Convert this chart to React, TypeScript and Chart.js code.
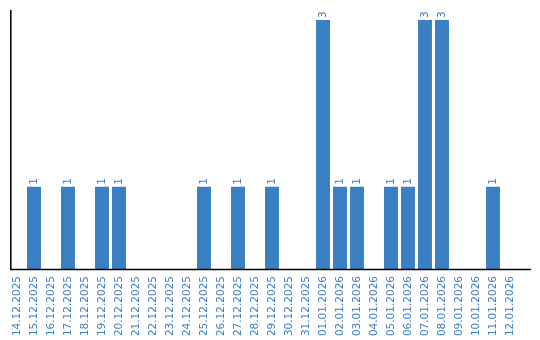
import React, { useEffect, useRef } from "react";
import { Chart, registerables } from "chart.js";

Chart.register(...registerables);

const categories: string[] = [
  "14.12.2025", "15.12.2025", "16.12.2025", "17.12.2025", "18.12.2025",
  "19.12.2025", "20.12.2025", "21.12.2025", "22.12.2025", "23.12.2025",
  "24.12.2025", "25.12.2025", "26.12.2025", "27.12.2025", "28.12.2025",
  "29.12.2025", "30.12.2025", "31.12.2025", "01.01.2026", "02.01.2026",
  "03.01.2026", "04.01.2026", "05.01.2026", "06.01.2026", "07.01.2026",
  "08.01.2026", "09.01.2026", "10.01.2026", "11.01.2026", "12.01.2026",
];

const counts: number[] = [
  0, 1, 0, 1, 0,
  1, 1, 0, 0, 0,
  0, 1, 0, 1, 0,
  1, 0, 0, 3, 1,
  1, 0, 1, 1, 3,
  3, 0, 0, 1, 0,
];

const BAR_COLOR = "#3b7fc3";
const TEXT_COLOR = "#3b7fc3";
const FONT_FAMILY = "'DejaVu Sans', Verdana, sans-serif";
const FONT_SIZE = 10.5;

const axisLinesPlugin = {
  id: "axisLines",
  afterDraw(chart: any) {
    const { ctx, chartArea } = chart;
    ctx.save();
    ctx.strokeStyle = "#000";
    ctx.lineWidth = 1.5;
    const x0 = chartArea.left + 2.3;
    ctx.beginPath();
    ctx.moveTo(x0, chartArea.top);
    ctx.lineTo(x0, chartArea.bottom);
    ctx.stroke();
    ctx.beginPath();
    ctx.moveTo(x0 - 0.75, chartArea.bottom - 0.5);
    ctx.lineTo(chartArea.right + 12.5, chartArea.bottom - 0.5);
    ctx.stroke();
    ctx.restore();
  },
};

const valueLabelsPlugin = {
  id: "valueLabels",
  afterDatasetsDraw(chart: any) {
    const { ctx } = chart;
    const meta = chart.getDatasetMeta(0);
    const data = chart.data.datasets[0].data as number[];
    ctx.save();
    ctx.fillStyle = TEXT_COLOR;
    ctx.font = `${FONT_SIZE}px ${FONT_FAMILY}`;
    ctx.textAlign = "left";
    ctx.textBaseline = "middle";
    meta.data.forEach((el: any, i: number) => {
      const v = data[i];
      if (!v) return;
      ctx.save();
      ctx.translate(el.x, el.y - 2);
      ctx.rotate(-Math.PI / 2);
      ctx.fillText(String(v), 0, 0);
      ctx.restore();
    });
    ctx.restore();
  },
};

export default function App() {
  const ref = useRef<HTMLCanvasElement | null>(null);

  useEffect(() => {
    document.body.style.margin = "0";
    if (!ref.current) return;
    const chart = new Chart(ref.current, {
      type: "bar",
      data: {
        labels: categories,
        datasets: [
          {
            data: counts,
            backgroundColor: BAR_COLOR,
            borderWidth: 0,
            categoryPercentage: 1,
            barPercentage: 0.82,
          },
        ],
      },
      options: {
        responsive: false,
        animation: false,
        layout: { padding: { left: 8.5, right: 21.5, top: 10, bottom: 0 } },
        plugins: {
          legend: { display: false },
          tooltip: { enabled: false },
        },
        scales: {
          x: {
            grid: { display: false, drawTicks: false },
            border: { display: false },
            ticks: {
              color: TEXT_COLOR,
              font: { family: FONT_FAMILY, size: FONT_SIZE },
              minRotation: 90,
              maxRotation: 90,
              autoSkip: false,
              padding: 6,
            },
            afterFit(scale: any) {
              scale.height = 70;
            },
          },
          y: {
            display: false,
            min: 0,
            max: 3.12,
          },
        },
      },
      plugins: [axisLinesPlugin, valueLabelsPlugin],
    });
    return () => chart.destroy();
  }, []);

  return <canvas ref={ref} width={540} height={340} style={{ display: "block" }} />;
}
